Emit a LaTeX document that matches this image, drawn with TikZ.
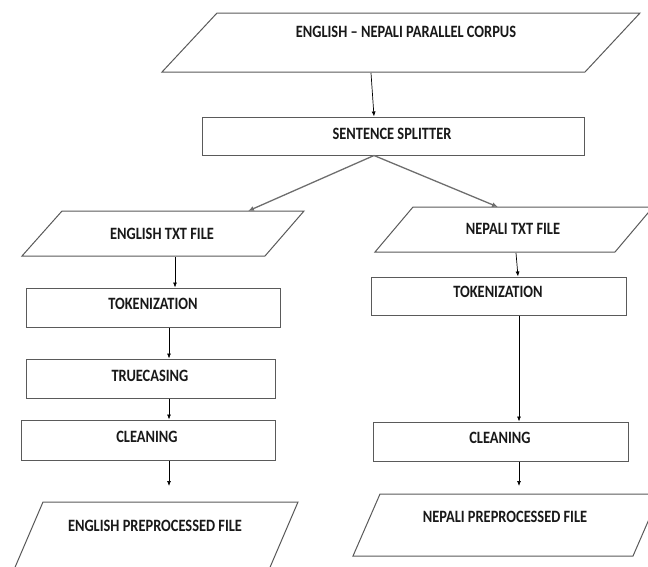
\documentclass[tikz,border=0pt]{standalone}
\usepackage{fontspec}
\setmainfont{Carlito}
\usetikzlibrary{arrows.meta,calc}
\definecolor{edgegray}{HTML}{5A5A5A}
\definecolor{splitgray}{HTML}{6E6E6E}
\newcommand{\tallT}[1]{\scalebox{1}[1.2]{#1}}
\tikzset{
  boxshape/.style={draw=edgegray, line width=1pt, rectangle, inner sep=0pt, fill=white},
  paragon/.style={draw=edgegray, line width=1pt, fill=white, line join=miter},
  lbl/.style={font=\bfseries\fontsize{14.4}{16}\selectfont, inner sep=0pt, text=black!90},
  flow/.style={draw=black, line width=0.7pt, -{Latex[length=5pt,width=4pt]}},
  splitline/.style={draw=splitgray, line width=1.3pt, -{Latex[length=6pt,width=5pt]}}
}
\begin{document}
\begin{tikzpicture}[x=1pt,y=-1pt]
\useasboundingbox (0,0) rectangle (648,566);
\clip (0,0) rectangle (648,566);
% top corpus
\draw[paragon] (217,13) -- (640,13) -- (585,72) -- (162,72) -- cycle;
\node[lbl] (corpus) at (406,32) {\tallT{ENGLISH -- NEPALI PARALLEL CORPUS}};
\coordinate (corpusS) at (371,73);
% splitter
\node[boxshape, minimum width=382pt, minimum height=38pt] (split) at (393,136) {};
\node[lbl] (splitT) at (392,134) {\tallT{SENTENCE SPLITTER}};
% English txt
\draw[paragon] (62,211) -- (304,211) -- (265,256) -- (22,256) -- cycle;
\node[lbl] (engtxt) at (162,234) {\tallT{ENGLISH TXT FILE}};
\coordinate (engtxtN) at (248,211);
\coordinate (engtxtS) at (175,257);
% Nepali txt
\draw[paragon] (413,207) -- (653,207) -- (615,252) -- (375,252) -- cycle;
\node[lbl] (neptxt) at (513,229) {\tallT{NEPALI TXT FILE}};
\coordinate (neptxtN) at (498,207);
\coordinate (neptxtS) at (516,253);
% left boxes
\node[boxshape, minimum width=254pt, minimum height=39pt] (tokL) at (153,307.5) {};
\node[lbl] (tokLT) at (153,304) {\tallT{TOKENIZATION}};
\node[boxshape, minimum width=249pt, minimum height=39pt] (trueL) at (150.5,378.5) {};
\node[lbl] (trueLT) at (150,376) {\tallT{TRUECASING}};
\node[boxshape, minimum width=254pt, minimum height=40pt] (cleanL) at (148,440) {};
\node[lbl] (cleanLT) at (147,437) {\tallT{CLEANING}};
% right boxes
\node[boxshape, minimum width=255pt, minimum height=38pt] (tokR) at (498.5,296) {};
\node[lbl] (tokRT) at (498,292) {\tallT{TOKENIZATION}};
\node[boxshape, minimum width=255pt, minimum height=39pt] (cleanR) at (500.5,441.5) {};
\node[lbl] (cleanRT) at (500,438) {\tallT{CLEANING}};
% English preprocessed
\draw[paragon] (43,502) -- (298,502) -- (268,572) -- (13,572) -- cycle;
\node[lbl] (engpre) at (155,526) {\tallT{ENGLISH PREPROCESSED FILE}};
\coordinate (engpreN) at (169,502);
% Nepali preprocessed
\draw[paragon] (380,494) -- (660,494) -- (633,556) -- (353,556) -- cycle;
\node[lbl] (neppre) at (505,517) {\tallT{NEPALI PREPROCESSED FILE}};
\coordinate (nepprN) at (519,494);
% connectors
\draw[flow] (corpusS) -- (split.north -| 374,0);
\draw[splitline] (split.south -| 374,0) -- (engtxtN);
\draw[splitline] (split.south -| 374,0) -- (neptxtN);
\draw[flow] (engtxtS) -- (tokL.north -| 175,0);
\draw[flow] (tokL.south -| 169,0) -- (trueL.north -| 169,0);
\draw[flow] (trueL.south -| 169,0) -- (cleanL.north -| 169,0);
\draw[flow] (cleanL.south -| 169,0) -- ($(engpreN)+(0,-16)$);
\draw[flow] (neptxtS) -- (tokR.north -| 518,0);
\draw[flow] (tokR.south -| 519,0) -- (cleanR.north -| 519,0);
\draw[flow] (cleanR.south -| 519,0) -- ($(nepprN)+(0,-8)$);
\end{tikzpicture}
\end{document}
